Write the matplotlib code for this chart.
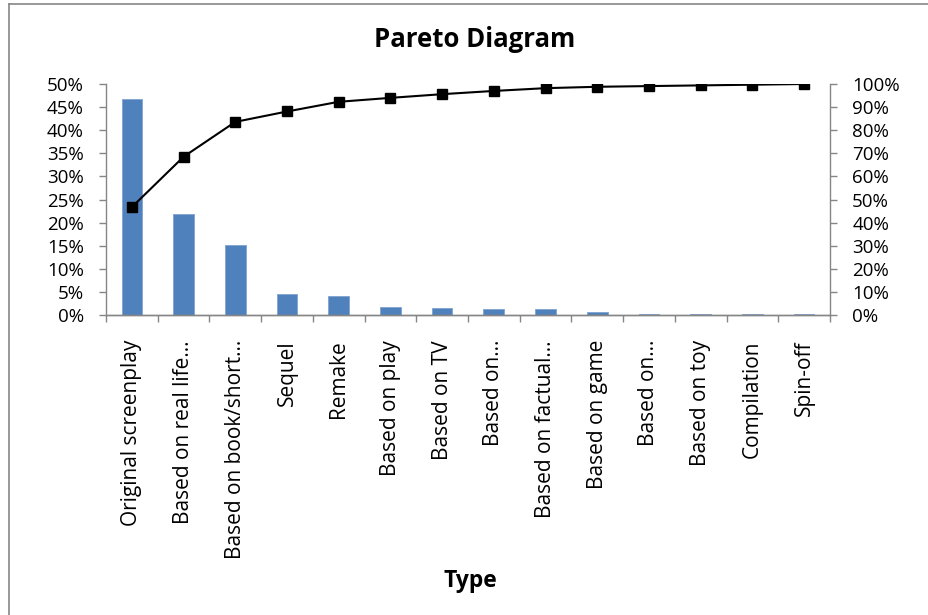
"""Pareto diagram of film source types."""

import matplotlib

matplotlib.use("Agg")
import matplotlib.pyplot as plt
from matplotlib.lines import Line2D
from matplotlib.ticker import FixedLocator, PercentFormatter

# Data (percent of total)
categories = [
    "Original screenplay",
    "Based on real life\u2026",
    "Based on book/short\u2026",
    "Sequel",
    "Remake",
    "Based on play",
    "Based on TV",
    "Based on\u2026",
    "Based on factual\u2026",
    "Based on game",
    "Based on\u2026",
    "Based on toy",
    "Compilation",
    "Spin-off",
]
share = [46.7, 21.8, 15.1, 4.5, 4.2, 1.7, 1.6, 1.4, 1.2, 0.6, 0.3, 0.3, 0.3, 0.3]
cumulative = [46.7, 68.5, 83.6, 88.1, 92.3, 94.0, 95.6, 97.0, 98.2, 98.8, 99.1, 99.4, 99.7, 100.0]
left_ticks = [0, 5, 10, 15, 20, 25, 30, 35, 40, 45, 50]
right_ticks = [0, 10, 20, 30, 40, 50, 60, 70, 80, 90, 100]

BAR_COLOR = "#4F81BD"
AXIS_COLOR = "#868686"

plt.rcParams["font.family"] = ["Open Sans", "DejaVu Sans"]

fig = plt.figure(figsize=(9.29, 6.15), dpi=100)
ax = fig.add_axes([0.1141, 0.4878, 0.7793, 0.3756])
ax2 = ax.twinx()

x = list(range(len(categories)))
ax.bar(x, share, width=0.4, color=BAR_COLOR, edgecolor="#7FA3D0", linewidth=0.6, zorder=2)
ax2.plot(
    x,
    cumulative,
    color="black",
    linewidth=1.5,
    marker="s",
    markersize=7,
    markerfacecolor="black",
    zorder=3,
)

ax.set_xlim(-0.5, len(categories) - 0.5)
ax.set_ylim(0, 50)
ax2.set_ylim(0, 100)

ax.set_yticks(left_ticks)
ax2.set_yticks(right_ticks)
ax.yaxis.set_major_formatter(PercentFormatter(decimals=0))
ax2.yaxis.set_major_formatter(PercentFormatter(decimals=0))

ax.set_xticks(x)
ax.set_xticklabels(categories, rotation=90, fontsize=15, va="top")
ax.xaxis.set_minor_locator(FixedLocator([i - 0.5 for i in range(len(categories) + 1)]))
ax.tick_params(axis="x", which="major", length=0, pad=18)
ax.tick_params(axis="x", which="minor", length=5, color=AXIS_COLOR, width=1)
ax.tick_params(axis="y", length=5, color=AXIS_COLOR, width=1, labelsize=13.5, pad=11)
ax2.tick_params(axis="y", length=5, color=AXIS_COLOR, width=1, labelsize=13.5, pad=11)

for a in (ax, ax2):
    a.spines["top"].set_visible(False)
    for side in ("left", "right", "bottom"):
        a.spines[side].set_color(AXIS_COLOR)
        a.spines[side].set_linewidth(1)
ax.spines["right"].set_visible(False)
ax2.spines["left"].set_visible(False)

fig.text(0.511, 0.935, "Pareto Diagram", ha="center", va="center", fontsize=18.5, fontweight="bold")
fig.text(0.506, 0.055, "Type", ha="center", va="center", fontsize=16.5, fontweight="bold")

# chart-area border (left and top edges visible in the crop)
fig.add_artist(Line2D([9 / 929, 9 / 929], [0, 1 - 4 / 615], color=AXIS_COLOR, linewidth=1.2))
fig.add_artist(Line2D([9 / 929, 1], [1 - 4 / 615, 1 - 4 / 615], color=AXIS_COLOR, linewidth=1.2))

fig.savefig("out.png", dpi=100)
